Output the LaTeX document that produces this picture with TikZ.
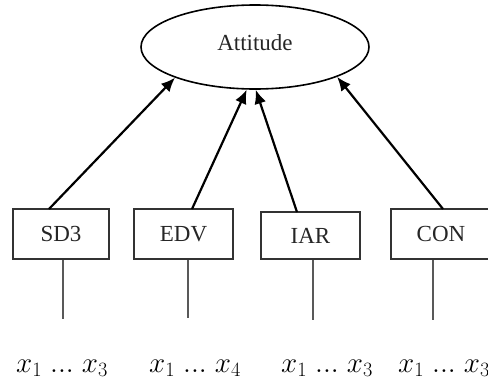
\RequirePackage{fix-cm}
\documentclass[tikz,border=0pt]{standalone}
\usepackage{fontspec}
\setmainfont{Liberation Serif}
\usetikzlibrary{arrows.meta,shapes.geometric}
\begin{document}
\begin{tikzpicture}[x=1pt,y=-1pt,
  boxst/.style={draw=black!80,line width=1.8pt,minimum height=50pt,inner sep=0pt,
    font=\fontsize{23}{26}\selectfont,text=black!85},
  arr/.style={line width=2.2pt,-{Latex[length=14pt,width=12pt]}},
  stem/.style={draw=black!65,line width=1.8pt},
  lab/.style={font=\fontsize{29}{32}\selectfont,anchor=base}]
\useasboundingbox (0,0) rectangle (488,383);
\node[draw,ellipse,line width=1.6pt,minimum width=228pt,minimum height=84pt,inner sep=0pt,
  font=\fontsize{23}{26}\selectfont,text=black!85] (att) at (255,47) {\raisebox{8pt}{Attitude}};
\node[boxst,minimum width=96pt] (sd3) at (61,234) {SD3};
\node[boxst,minimum width=99pt] (edv) at (183.5,234) {EDV};
\node[boxst,minimum width=99pt,minimum height=47pt] (iar) at (310.5,235.5) {IAR};
\node[boxst,minimum width=100pt] (con) at (441,234) {CON};
\coordinate (s1) at (49,209);
\coordinate (s2) at (192,209);
\coordinate (s3) at (297,212);
\coordinate (s4) at (443,209);
\draw[arr] (s1) -- (att.201);
\draw[arr] (s2) -- (att.259.5);
\draw[arr] (s3) -- (att.271);
\draw[arr] (s4) -- (att.340);
\coordinate (e1) at (63,319);
\coordinate (e2) at (188,318);
\coordinate (e3) at (313,320);
\coordinate (e4) at (433,320);
\draw[stem] (sd3.south -| e1) -- (e1);
\draw[stem] (edv.south -| e2) -- (e2);
\draw[stem] (iar.south -| e3) -- (e3);
\draw[stem] (con.south -| e4) -- (e4);
\node[lab] (l1) at (62,372) {$x_1\;{.}{.}{.}\;x_3$};
\node[lab] (l2) at (195,372) {$x_1\;{.}{.}{.}\;x_4$};
\node[lab] (l3) at (327,372) {$x_1\;{.}{.}{.}\;x_3$};
\node[lab] (l4) at (444,372) {$x_1\;{.}{.}{.}\;x_3$};
\end{tikzpicture}
\end{document}
